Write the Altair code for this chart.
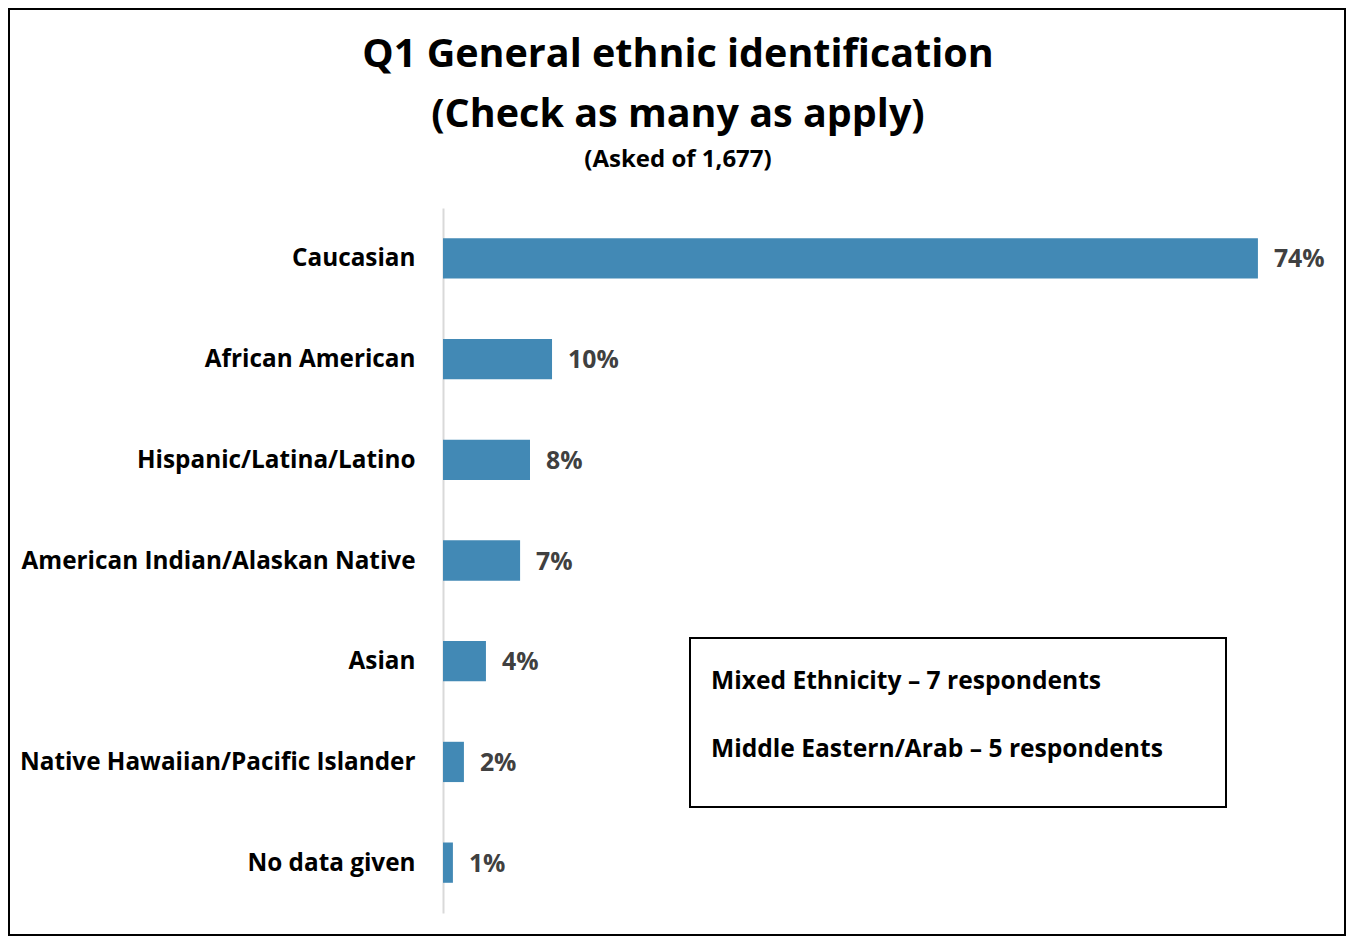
import altair as alt
import pandas as pd

categories = [
    "Caucasian",
    "African American",
    "Hispanic/Latina/Latino",
    "American Indian/Alaskan Native",
    "Asian",
    "Native Hawaiian/Pacific Islander",
    "No data given",
]
percent = [74.0, 9.9, 7.9, 7.0, 3.9, 1.9, 0.9]

title_line1 = "Q1 General ethnic identification"
title_line2 = "(Check as many as apply)"
subtitle = "(Asked of 1,677)"
note_lines = ["Mixed Ethnicity \u2013 7 respondents", "Middle Eastern/Arab \u2013 5 respondents"]

FONT = "Open Sans"
BAR = "#4289B5"

df = pd.DataFrame({"category": categories, "value": percent})

W, H = 881, 705
PL, PT, PR, PB = 435, 200, 22, 23

y_enc = alt.Y(
    "category:N",
    sort=categories,
    scale=alt.Scale(paddingInner=0.6, paddingOuter=0.3),
    axis=alt.Axis(
        title=None,
        ticks=False,
        grid=False,
        domain=True,
        domainColor="#d9d9d9",
        domainWidth=2,
        labelFont=FONT,
        labelFontWeight="bold",
        labelFontSize=24.3,
        labelColor="#000000",
        labelPadding=28,
        labelLimit=500,
        labelOffset=1,
    ),
)
x_enc = alt.X("value:Q", scale=alt.Scale(domain=[0, 80]), axis=None)

bars = alt.Chart(df).mark_bar(color=BAR).encode(x=x_enc, y=y_enc)
labels = (
    alt.Chart(df)
    .transform_calculate(lbl="format(datum.value, '.0f') + '%'")
    .mark_text(align="left", baseline="middle", dx=16, dy=2, font=FONT, fontWeight="bold", fontSize=24.8, color="#404040")
    .encode(x=x_enc, y=y_enc, text="lbl:N")
)

# annotation box
box = alt.Chart(pd.DataFrame({"a": [0]})).mark_rect(fill="white", stroke="black", strokeWidth=2).encode(
    x=alt.value(247), x2=alt.value(783), y=alt.value(430), y2=alt.value(599)
)
note_df = pd.DataFrame({"t": note_lines, "i": [0, 1]})
notes = (
    alt.Chart(note_df)
    .transform_calculate(py="474 + datum.i * 68")
    .mark_text(align="left", baseline="middle", font=FONT, fontWeight="bold", fontSize=24.6, color="black")
    .encode(x=alt.value(268), y=alt.Y("py:Q", scale=None), text="t:N")
)

title_df = pd.DataFrame({"t": [title_line1, title_line2], "py": [-153, -93]})
titles = alt.Chart(title_df).mark_text(
    align="center", baseline="middle", font=FONT, fontWeight="bold", fontSize=39.5, color="black"
).encode(x=alt.value(235), y=alt.Y("py:Q", scale=None), text="t:N")

sub = alt.Chart(pd.DataFrame({"t": [subtitle]})).mark_text(
    align="center", baseline="middle", font=FONT, fontWeight="bold", fontSize=24, color="black"
).encode(x=alt.value(235), y=alt.value(-48), text="t:N")

border = alt.Chart(pd.DataFrame({"a": [0]})).mark_rect(fill=None, stroke="black", strokeWidth=2).encode(
    x=alt.value(-434), x2=alt.value(W + PR - 1), y=alt.value(-199), y2=alt.value(H + PB - 1)
)

chart = (
    alt.layer(border, bars, labels, box, notes, titles, sub)
    .properties(
        width=W,
        height=H,
        padding={"left": PL, "top": PT, "right": PR, "bottom": PB},
        autosize=alt.AutoSizeParams(type="none"),
        background="white",
    )
    .configure_view(stroke=None)
)

chart.save("out.html", embed_options={"renderer": "svg", "actions": False})
